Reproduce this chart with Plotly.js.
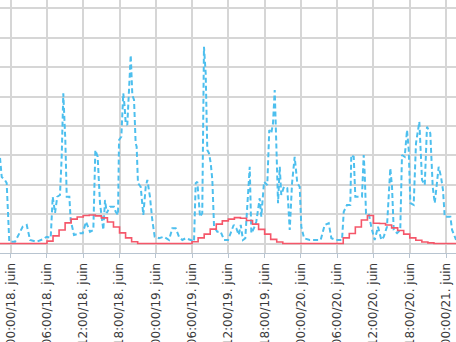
<!DOCTYPE html>
<html>
<head>
<meta charset="utf-8">
<script src="https://cdn.plot.ly/plotly-3.0.1.min.js"></script>
<style>
html,body{margin:0;padding:0;background:#fff;overflow:hidden;}
#chart{width:456px;height:342px;}
</style>
</head>
<body>
<div id="chart"></div>
<script>
// Blue dashed series (timestamps and values)
const loadTimes = [
"2019-06-17 22:14","2019-06-17 22:31","2019-06-17 23:03","2019-06-17 23:20","2019-06-17 23:46",
"2019-06-18 00:43","2019-06-18 01:59","2019-06-18 02:39","2019-06-18 03:12","2019-06-18 04:18",
"2019-06-18 05:24","2019-06-18 05:57","2019-06-18 06:37","2019-06-18 06:57","2019-06-18 07:20",
"2019-06-18 07:42","2019-06-18 08:09","2019-06-18 08:26","2019-06-18 08:42","2019-06-18 09:02",
"2019-06-18 09:16","2019-06-18 09:42","2019-06-18 09:55","2019-06-18 10:28","2019-06-18 11:28",
"2019-06-18 11:55","2019-06-18 12:27","2019-06-18 13:07","2019-06-18 13:40","2019-06-18 14:00",
"2019-06-18 14:23","2019-06-18 14:46","2019-06-18 15:19","2019-06-18 15:36","2019-06-18 15:53",
"2019-06-18 16:25","2019-06-18 17:05","2019-06-18 17:22","2019-06-18 17:45","2019-06-18 17:55",
"2019-06-18 18:18","2019-06-18 18:37","2019-06-18 18:51","2019-06-18 19:01","2019-06-18 19:17",
"2019-06-18 19:34","2019-06-18 19:51","2019-06-18 20:07","2019-06-18 20:24","2019-06-18 20:40",
"2019-06-18 20:50","2019-06-18 21:03","2019-06-18 21:30","2019-06-18 21:56","2019-06-18 22:20",
"2019-06-18 22:36","2019-06-18 23:02","2019-06-18 23:25","2019-06-18 23:49",
"2019-06-19 00:32","2019-06-19 01:21","2019-06-19 02:11","2019-06-19 02:44","2019-06-19 03:17",
"2019-06-19 03:50","2019-06-19 04:23","2019-06-19 04:57","2019-06-19 05:46","2019-06-19 06:19",
"2019-06-19 06:36","2019-06-19 06:52","2019-06-19 07:19","2019-06-19 07:41","2019-06-19 07:58",
"2019-06-19 08:15","2019-06-19 08:31","2019-06-19 08:48","2019-06-19 09:05","2019-06-19 09:21",
"2019-06-19 09:38","2019-06-19 10:10","2019-06-19 10:44","2019-06-19 11:17","2019-06-19 11:57",
"2019-06-19 12:53","2019-06-19 13:19","2019-06-19 13:43","2019-06-19 14:03","2019-06-19 14:25",
"2019-06-19 14:48","2019-06-19 15:08","2019-06-19 15:32","2019-06-19 15:48","2019-06-19 16:14",
"2019-06-19 16:37","2019-06-19 17:11","2019-06-19 17:27","2019-06-19 17:54","2019-06-19 18:26",
"2019-06-19 18:46","2019-06-19 19:06","2019-06-19 19:23","2019-06-19 19:40","2019-06-19 19:56",
"2019-06-19 20:13","2019-06-19 20:30","2019-06-19 20:45","2019-06-19 21:12","2019-06-19 21:45",
"2019-06-19 22:09","2019-06-19 22:32","2019-06-19 22:58","2019-06-19 23:24","2019-06-19 23:48",
"2019-06-20 00:04","2019-06-20 00:31","2019-06-20 01:27","2019-06-20 02:33","2019-06-20 03:16",
"2019-06-20 03:56","2019-06-20 04:36","2019-06-20 05:02","2019-06-20 05:51","2019-06-20 06:48",
"2019-06-20 07:05","2019-06-20 07:37","2019-06-20 08:10","2019-06-20 08:20","2019-06-20 08:44",
"2019-06-20 09:00","2019-06-20 09:34","2019-06-20 10:06","2019-06-20 10:23","2019-06-20 10:33",
"2019-06-20 10:46","2019-06-20 11:13","2019-06-20 11:38","2019-06-20 12:12","2019-06-20 12:45",
"2019-06-20 13:18","2019-06-20 13:42","2019-06-20 14:14","2019-06-20 14:47","2019-06-20 15:04",
"2019-06-20 15:21","2019-06-20 15:54","2019-06-20 16:26","2019-06-20 16:43","2019-06-20 17:10",
"2019-06-20 17:33","2019-06-20 17:50","2019-06-20 18:06","2019-06-20 18:39","2019-06-20 19:02",
"2019-06-20 19:35","2019-06-20 20:02","2019-06-20 20:29","2019-06-20 20:51","2019-06-20 21:24",
"2019-06-20 21:48","2019-06-20 22:08","2019-06-20 22:47","2019-06-20 23:10","2019-06-20 23:30",
"2019-06-20 23:47","2019-06-21 00:20","2019-06-21 00:43","2019-06-21 01:00","2019-06-21 01:27",
"2019-06-21 01:40"
];
const loadValues = [
291,226,216,206,6,
6,57,63,12,6,
15,23,19,159,104,
159,165,295,511,352,
159,159,80,29,35,
35,74,40,46,318,
295,138,46,148,104,
125,125,108,97,352,
363,511,465,409,403,
522,641,505,488,341,
329,205,193,97,193,
216,159,80,23,
18,23,12,52,52,
23,12,18,12,6,
205,210,91,103,669,
579,318,307,273,216,
57,40,40,12,12,
63,52,29,63,12,
18,142,261,35,52,
74,154,91,210,199,
386,375,409,522,329,
137,261,165,193,188,
46,205,295,205,193,
57,18,12,12,12,
63,69,18,12,12,
108,131,131,301,295,
159,159,159,301,239,
103,103,57,12,57,
12,23,57,256,193,
46,35,46,301,295,
386,318,137,131,341,
414,216,199,397,375,
193,137,261,227,182,
91,91,91,46,18,
12
];

// Red stepped series: hourly values (hours 00..23) per day
const solarDays = ["2019-06-17","2019-06-18","2019-06-19","2019-06-20","2019-06-21"];
const solarHourly = [
  [0,0,0,0,0,0,0,0,0,0,0,0,0,0,0,0,0,0,0,0,0,0,0,0],
  [0,0,0,0,0,0,8,26,46,70,83,90,95,97,94,87,73,56,36,19,6,0,0,0],
  [0,0,0,0,0,0,6,19,32,49,66,77,83,88,86,78,66,48,32,14,5,0,0,0],
  [0,0,0,0,0,0,0,19,34,56,80,95,69,68,63,53,44,32,19,11,5,2,0,0],
  [0,0,0]
];

// Axis tick labels
const tickVals = ["2019-06-18 00:00","2019-06-18 06:00","2019-06-18 12:00","2019-06-18 18:00",
  "2019-06-19 00:00","2019-06-19 06:00","2019-06-19 12:00","2019-06-19 18:00",
  "2019-06-20 00:00","2019-06-20 06:00","2019-06-20 12:00","2019-06-20 18:00","2019-06-21 00:00"];
const tickLabels = ["00:00/18. juin","06:00/18. juin","12:00/18. juin","18:00/18. juin",
  "00:00/19. juin","06:00/19. juin","12:00/19. juin","18:00/19. juin",
  "00:00/20. juin","06:00/20. juin","12:00/20. juin","18:00/20. juin","00:00/21. juin"];

const solarTimes = [], solarValues = [];
solarDays.forEach((d, i) => {
  solarHourly[i].forEach((v, h) => {
    if (i === 0 && h < 22) return;
    solarTimes.push(d + " " + String(h).padStart(2, "0") + ":00");
    solarValues.push(v);
  });
});

const traces = [
  {
    x: loadTimes, y: loadValues, type: "scatter", mode: "lines",
    line: {color: "#4dbfee", width: 2, dash: "5px,3px"},
    hoverinfo: "x+y"
  },
  {
    x: solarTimes, y: solarValues, type: "scatter", mode: "lines",
    line: {color: "#f5576a", width: 1.6, shape: "hv"},
    hoverinfo: "x+y"
  }
];

const layout = {
  width: 456, height: 342,
  margin: {l: 0, r: 0, t: 0, b: 89, pad: 0},
  paper_bgcolor: "#fff", plot_bgcolor: "#fff",
  showlegend: false,
  font: {family: "DejaVu Sans, Arial, sans-serif", size: 12, color: "#444"},
  xaxis: {
    type: "date",
    range: ["2019-06-17 22:13:50", "2019-06-21 01:39:00"],
    tickvals: tickVals, ticktext: tickLabels,
    tickangle: -90,
    showgrid: true, gridcolor: "#d6d6d6", gridwidth: 1.5,
    showline: true, linecolor: "#b8c4d0", linewidth: 1,
    ticks: "outside", ticklen: 4, tickcolor: "#b8c4d0",
    zeroline: false,
    tickfont: {family: "DejaVu Sans, Arial, sans-serif", size: 12, color: "#3a3a3a"}
  },
  yaxis: {
    range: [-32.3, 828.2],
    dtick: 100, tick0: 0,
    showgrid: true, gridcolor: "#d6d6d6", gridwidth: 1.5,
    showticklabels: false, zeroline: false, showline: false, ticks: ""
  }
};

Plotly.newPlot("chart", traces, layout, {displayModeBar: false});
</script>
</body>
</html>
